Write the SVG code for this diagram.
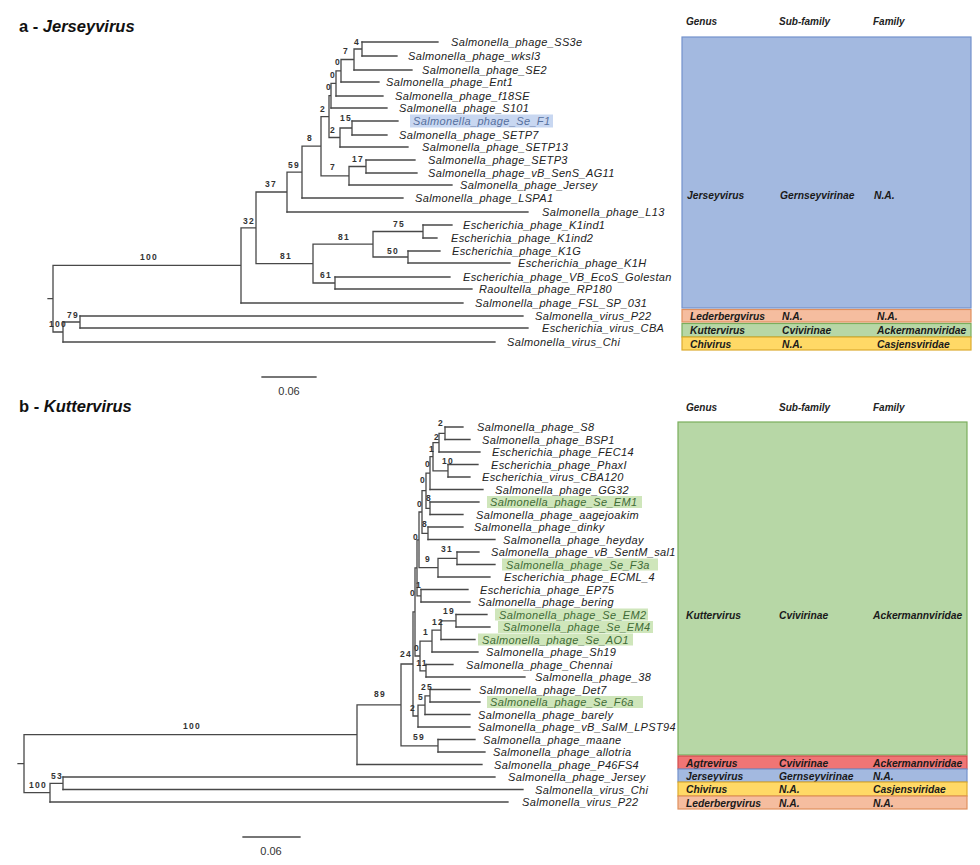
<svg xmlns="http://www.w3.org/2000/svg" width="980" height="865" viewBox="0 0 980 865">
<style>
.br{stroke:#484848;stroke-width:1.3;fill:none;stroke-linecap:square}
.lf{font-family:"Liberation Sans",Arial,sans-serif;font-style:italic;font-size:11px;letter-spacing:0.35px;fill:#222}
.hlb{fill:#c8d7f1}
.hlg{fill:#cfe6bb}
.tb{fill:#56709e}
.tg{fill:#3f6b36}
.bs{font-family:"Liberation Sans",Arial,sans-serif;font-weight:bold;font-size:8.5px;letter-spacing:1.2px;fill:#333;text-anchor:middle}
.ttl{font-family:"Liberation Sans",Arial,sans-serif;font-weight:bold;font-size:16.5px;fill:#111}
.hd{font-family:"Liberation Sans",Arial,sans-serif;font-weight:bold;font-style:italic;font-size:10px;fill:#222}
.tx{font-family:"Liberation Sans",Arial,sans-serif;font-weight:bold;font-style:italic;font-size:10.3px;fill:#1a1a1a}
.sc{font-family:"Liberation Sans",Arial,sans-serif;font-size:11px;fill:#333;text-anchor:middle}
.blue{fill:#a3b9e0;stroke:#7392cc;stroke-width:1.2}
.green{fill:#b7d7a6;stroke:#7aae5c;stroke-width:1.2}
.peach{fill:#f5bd9f;stroke:#e0905e;stroke-width:1.2}
.yellow{fill:#ffd966;stroke:#dcab2e;stroke-width:1.2}
.red{fill:#f07575;stroke:#d04c4c;stroke-width:1.2}
</style>

<!-- Titles -->
<g id="title-a"><text class="ttl" x="19" y="32">a - <tspan font-style="italic">Jerseyvirus</tspan></text></g>
<g id="title-b"><text class="ttl" x="19" y="412">b - <tspan font-style="italic">Kuttervirus</tspan></text></g>

<!-- Connectors (tree branches) -->
<g id="connectors">
<path class="br" d="M362 42H438 M362 56H397 M354 70H412 M341 82H379 M336 96H383 M331 108H387 M352 121H398 M352 135H387 M340 147H408 M366 160H415 M366 173H417 M349 185H452 M302 198H403 M287 212H528 M423 225H452 M423 238H437 M408 251H440 M408 263H510 M335 277H450 M335 289H472 M241 303H463 M80 316H523 M80 328H528 M63 342H495"/>
<path class="br" d="M362 42V56 M354 49H362 M354 49V70 M341 59.5H354 M341 59.5V82 M336 70.8H341 M336 70.8V96 M331 83.4H336 M331 83.4V108 M329 95.7H331 M352 121V135 M340 128H352 M340 128V147 M329 137.5H340 M329 95.7V137.5 M321 116.6H329 M366 160V173 M349 166.5H366 M349 166.5V185 M321 175.8H349 M321 116.6V175.8 M302 146.2H321 M302 146.2V198 M287 172.1H302 M287 172.1V212 M256 192H287 M423 225V238 M373 231.5H423 M408 251V263 M373 257H408 M373 231.5V257 M313 244.2H373 M335 277V289 M313 283H335 M313 244.2V283 M256 263.6H313 M256 192V263.6 M241 227.8H256 M241 227.8V303 M53 265.4H241 M80 316V328 M63 322H80 M63 322V342 M53 332H63 M53 265.4V332 M48 298.7H53"/>
<path class="br" d="M262 377H316"/>
<path class="br" d="M445 427H463 M445 439.5H470 M439 452H480 M448 464.5H478 M448 477H470 M430 489.5H483 M430 502H479 M430 514.5H463 M428 527H463 M428 539.5H495 M457 552H479 M457 564.5H495 M438 577H490 M421 589.5H468 M421 602H470 M456 614.5H487 M456 627H490 M441 639.5H475 M432 652H478 M426 664.5H453 M426 677H525 M430 689.5H470 M430 702H480 M425 714.5H470 M418 727H470 M438 739.5H475 M438 752H485 M357 764.5H482 M63 777H495 M63 789.5H523 M50 802H508"/>
<path class="br" d="M445 427V439.5 M439 433.3H445 M439 433.3V452 M433 442.6H439 M448 464.5V477 M433 470.8H448 M433 442.6V470.8 M430 456.7H433 M430 456.7V489.5 M426 473.1H430 M430 502V514.5 M426 508.3H430 M426 473.1V508.3 M422 490.7H426 M428 527V539.5 M422 533.3H428 M422 490.7V533.3 M419 512H422 M457 552V564.5 M438 558.3H457 M438 558.3V577 M419 567.6H438 M419 512V567.6 M417 539.8H419 M421 589.5V602 M417 595.8H421 M417 539.8V595.8 M415 567.8H417 M456 614.5V627 M441 620.8H456 M441 620.8V639.5 M432 630.1H441 M432 630.1V652 M420 641.1H432 M426 664.5V677 M420 670.8H426 M420 641.1V670.8 M415 656H420 M415 567.8V656 M413 611.9H415 M430 689.5V702 M425 695.8H430 M425 695.8V714.5 M418 705.1H425 M418 705.1V727 M413 716H418 M413 611.9V716 M401 664H413 M438 739.5V752 M401 745.8H438 M401 664V745.8 M357 704.9H401 M357 704.9V764.5 M24 734.7H357 M63 777V789.5 M50 783.3H63 M50 783.3V802 M24 792.6H50 M24 734.7V792.6 M18 763.7H24"/>
<path class="br" d="M243 837H300"/>
</g>

<!-- Bootstrap values -->
<g id="bootstrap-a">
<text class="bs" x="357" y="45">4</text>
<text class="bs" x="346" y="54">7</text>
<text class="bs" x="338" y="65">0</text>
<text class="bs" x="333" y="78">0</text>
<text class="bs" x="329" y="90">0</text>
<text class="bs" x="323" y="112">2</text>
<text class="bs" x="346" y="121">15</text>
<text class="bs" x="333" y="133">2</text>
<text class="bs" x="310" y="141">8</text>
<text class="bs" x="358" y="162">17</text>
<text class="bs" x="333" y="170">7</text>
<text class="bs" x="294" y="168">59</text>
<text class="bs" x="271" y="187">37</text>
<text class="bs" x="249" y="224">32</text>
<text class="bs" x="286" y="259">81</text>
<text class="bs" x="399" y="227">75</text>
<text class="bs" x="344" y="240">81</text>
<text class="bs" x="393" y="254">50</text>
<text class="bs" x="326" y="278">61</text>
<text class="bs" x="149" y="260">100</text>
<text class="bs" x="73" y="318">79</text>
<text class="bs" x="58" y="327">100</text>
</g>
<g id="bootstrap-b">
<text class="bs" x="441" y="426">2</text>
<text class="bs" x="437" y="440">2</text>
<text class="bs" x="432" y="452">1</text>
<text class="bs" x="448" y="464">10</text>
<text class="bs" x="428" y="467">0</text>
<text class="bs" x="423" y="483">0</text>
<text class="bs" x="429" y="501">8</text>
<text class="bs" x="420" y="507">0</text>
<text class="bs" x="425" y="527">8</text>
<text class="bs" x="416" y="540">0</text>
<text class="bs" x="447" y="552">31</text>
<text class="bs" x="428" y="562">9</text>
<text class="bs" x="419" y="588">1</text>
<text class="bs" x="413" y="596">0</text>
<text class="bs" x="449" y="614">19</text>
<text class="bs" x="438" y="625">12</text>
<text class="bs" x="426" y="635">1</text>
<text class="bs" x="417" y="651">0</text>
<text class="bs" x="406" y="657">24</text>
<text class="bs" x="422" y="666">11</text>
<text class="bs" x="427" y="690">25</text>
<text class="bs" x="421" y="700">5</text>
<text class="bs" x="413" y="711">2</text>
<text class="bs" x="419" y="740">59</text>
<text class="bs" x="380" y="697">89</text>
<text class="bs" x="192" y="729">100</text>
<text class="bs" x="57" y="779">53</text>
<text class="bs" x="38" y="788">100</text>
</g>

<!-- Scale bars -->
<g id="scale-a"><text class="sc" x="289" y="395">0.06</text></g>
<g id="scale-b"><text class="sc" x="271" y="855">0.06</text></g>

<!-- Leaves panel a -->
<g id="a-SS3e"><text class="lf" x="451" y="46">Salmonella_phage_SS3e</text></g>
<g id="a-wksl3"><text class="lf" x="408" y="60">Salmonella_phage_wksl3</text></g>
<g id="a-SE2"><text class="lf" x="422" y="74">Salmonella_phage_SE2</text></g>
<g id="a-Ent1"><text class="lf" x="386" y="86">Salmonella_phage_Ent1</text></g>
<g id="a-f18SE"><text class="lf" x="395" y="100">Salmonella_phage_f18SE</text></g>
<g id="a-S101"><text class="lf" x="399" y="112">Salmonella_phage_S101</text></g>
<g id="a-SeF1"><rect class="hlb" x="410" y="114.5" width="143" height="13"/><text class="lf tb" x="413" y="125">Salmonella_phage_Se_F1</text></g>
<g id="a-SETP7"><text class="lf" x="399" y="139">Salmonella_phage_SETP7</text></g>
<g id="a-SETP13"><text class="lf" x="422" y="151">Salmonella_phage_SETP13</text></g>
<g id="a-SETP3"><text class="lf" x="428" y="164">Salmonella_phage_SETP3</text></g>
<g id="a-AG11"><text class="lf" x="428" y="177">Salmonella_phage_vB_SenS_AG11</text></g>
<g id="a-Jersey"><text class="lf" x="460" y="189">Salmonella_phage_Jersey</text></g>
<g id="a-LSPA1"><text class="lf" x="415" y="202">Salmonella_phage_LSPA1</text></g>
<g id="a-L13"><text class="lf" x="542" y="216">Salmonella_phage_L13</text></g>
<g id="a-K1ind1"><text class="lf" x="463" y="229">Escherichia_phage_K1ind1</text></g>
<g id="a-K1ind2"><text class="lf" x="451" y="242">Escherichia_phage_K1ind2</text></g>
<g id="a-K1G"><text class="lf" x="452" y="255">Escherichia_phage_K1G</text></g>
<g id="a-K1H"><text class="lf" x="518" y="267">Escherichia_phage_K1H</text></g>
<g id="a-Golestan"><text class="lf" x="463" y="281">Escherichia_phage_VB_EcoS_Golestan</text></g>
<g id="a-RP180"><text class="lf" x="479" y="293">Raoultella_phage_RP180</text></g>
<g id="a-FSL"><text class="lf" x="475" y="307">Salmonella_phage_FSL_SP_031</text></g>
<g id="a-P22"><text class="lf" x="535" y="320">Salmonella_virus_P22</text></g>
<g id="a-CBA"><text class="lf" x="542" y="332">Escherichia_virus_CBA</text></g>
<g id="a-Chi"><text class="lf" x="507" y="346">Salmonella_virus_Chi</text></g>

<!-- Leaves panel b -->
<g id="b-S8"><text class="lf" x="477" y="431">Salmonella_phage_S8</text></g>
<g id="b-BSP1"><text class="lf" x="482" y="443.5">Salmonella_phage_BSP1</text></g>
<g id="b-FEC14"><text class="lf" x="492" y="456">Escherichia_phage_FEC14</text></g>
<g id="b-PhaxI"><text class="lf" x="491" y="468.5">Escherichia_phage_PhaxI</text></g>
<g id="b-CBA120"><text class="lf" x="482" y="481">Escherichia_virus_CBA120</text></g>
<g id="b-GG32"><text class="lf" x="495" y="493.5">Salmonella_phage_GG32</text></g>
<g id="b-SeEM1"><rect class="hlg" x="487" y="496" width="155" height="12"/><text class="lf tg" x="490" y="506">Salmonella_phage_Se_EM1</text></g>
<g id="b-aagejoakim"><text class="lf" x="476" y="518.5">Salmonella_phage_aagejoakim</text></g>
<g id="b-dinky"><text class="lf" x="474" y="531">Salmonella_phage_dinky</text></g>
<g id="b-heyday"><text class="lf" x="503" y="543.5">Salmonella_phage_heyday</text></g>
<g id="b-sal1"><text class="lf" x="491" y="556">Salmonella_phage_vB_SentM_sal1</text></g>
<g id="b-SeF3a"><rect class="hlg" x="502" y="558.5" width="156" height="12"/><text class="lf tg" x="506" y="568.5">Salmonella_phage_Se_F3a</text></g>
<g id="b-ECML4"><text class="lf" x="504" y="581">Escherichia_phage_ECML_4</text></g>
<g id="b-EP75"><text class="lf" x="480" y="593.5">Escherichia_phage_EP75</text></g>
<g id="b-bering"><text class="lf" x="478" y="606">Salmonella_phage_bering</text></g>
<g id="b-SeEM2"><rect class="hlg" x="495" y="608.5" width="153" height="12"/><text class="lf tg" x="499" y="618.5">Salmonella_phage_Se_EM2</text></g>
<g id="b-SeEM4"><rect class="hlg" x="498" y="621" width="155" height="12"/><text class="lf tg" x="503" y="631">Salmonella_phage_Se_EM4</text></g>
<g id="b-SeAO1"><rect class="hlg" x="478" y="633.5" width="155" height="12"/><text class="lf tg" x="482" y="643.5">Salmonella_phage_Se_AO1</text></g>
<g id="b-Sh19"><text class="lf" x="486" y="656">Salmonella_phage_Sh19</text></g>
<g id="b-Chennai"><text class="lf" x="466" y="668.5">Salmonella_phage_Chennai</text></g>
<g id="b-38"><text class="lf" x="535" y="681">Salmonella_phage_38</text></g>
<g id="b-Det7"><text class="lf" x="479" y="693.5">Salmonella_phage_Det7</text></g>
<g id="b-SeF6a"><rect class="hlg" x="487" y="696" width="156" height="12"/><text class="lf tg" x="490" y="706">Salmonella_phage_Se_F6a</text></g>
<g id="b-barely"><text class="lf" x="478" y="718.5">Salmonella_phage_barely</text></g>
<g id="b-LPST94"><text class="lf" x="478" y="731">Salmonella_phage_vB_SalM_LPST94</text></g>
<g id="b-maane"><text class="lf" x="483" y="743.5">Salmonella_phage_maane</text></g>
<g id="b-allotria"><text class="lf" x="493" y="756">Salmonella_phage_allotria</text></g>
<g id="b-P46FS4"><text class="lf" x="494" y="768.5">Salmonella_phage_P46FS4</text></g>
<g id="b-Jersey"><text class="lf" x="508" y="781">Salmonella_phage_Jersey</text></g>
<g id="b-Chi"><text class="lf" x="535" y="793.5">Salmonella_virus_Chi</text></g>
<g id="b-P22"><text class="lf" x="522" y="806">Salmonella_virus_P22</text></g>

<!-- Classification table a -->
<g id="table-a-header">
<text class="hd" x="686" y="25">Genus</text>
<text class="hd" x="779" y="25">Sub-family</text>
<text class="hd" x="873" y="25">Family</text>
</g>
<g id="table-a-jerseyvirus">
<rect class="blue" x="682" y="37" width="289" height="271"/>
<text class="tx" x="687" y="199">Jerseyvirus</text>
<text class="tx" x="780" y="199">Gernseyvirinae</text>
<text class="tx" x="874" y="199">N.A.</text>
</g>
<g id="table-a-lederbergvirus">
<rect class="peach" x="682" y="309.5" width="289" height="12.5"/>
<text class="tx" x="690" y="319.5">Lederbergvirus</text>
<text class="tx" x="782" y="319.5">N.A.</text>
<text class="tx" x="877" y="319.5">N.A.</text>
</g>
<g id="table-a-kuttervirus">
<rect class="green" x="682" y="323.5" width="289" height="13.5"/>
<text class="tx" x="690" y="334">Kuttervirus</text>
<text class="tx" x="782" y="334">Cvivirinae</text>
<text class="tx" x="877" y="334">Ackermannviridae</text>
</g>
<g id="table-a-chivirus">
<rect class="yellow" x="682" y="337" width="289" height="13"/>
<text class="tx" x="690" y="347.5">Chivirus</text>
<text class="tx" x="782" y="347.5">N.A.</text>
<text class="tx" x="877" y="347.5">Casjensviridae</text>
</g>

<!-- Classification table b -->
<g id="table-b-header">
<text class="hd" x="686" y="411">Genus</text>
<text class="hd" x="779" y="411">Sub-family</text>
<text class="hd" x="873" y="411">Family</text>
</g>
<g id="table-b-kuttervirus">
<rect class="green" x="678" y="422" width="289" height="333"/>
<text class="tx" x="686" y="619">Kuttervirus</text>
<text class="tx" x="779" y="619">Cvivirinae</text>
<text class="tx" x="873" y="619">Ackermannviridae</text>
</g>
<g id="table-b-agtrevirus">
<rect class="red" x="678" y="756" width="289" height="13"/>
<text class="tx" x="686" y="766.5">Agtrevirus</text>
<text class="tx" x="779" y="766.5">Cvivirinae</text>
<text class="tx" x="873" y="766.5">Ackermannviridae</text>
</g>
<g id="table-b-jerseyvirus">
<rect class="blue" x="678" y="769" width="289" height="13"/>
<text class="tx" x="686" y="779.5">Jerseyvirus</text>
<text class="tx" x="779" y="779.5">Gernseyvirinae</text>
<text class="tx" x="873" y="779.5">N.A.</text>
</g>
<g id="table-b-chivirus">
<rect class="yellow" x="678" y="782" width="289" height="14"/>
<text class="tx" x="686" y="793">Chivirus</text>
<text class="tx" x="779" y="793">N.A.</text>
<text class="tx" x="873" y="793">Casjensviridae</text>
</g>
<g id="table-b-lederbergvirus">
<rect class="peach" x="678" y="796" width="289" height="13"/>
<text class="tx" x="686" y="806.5">Lederbergvirus</text>
<text class="tx" x="779" y="806.5">N.A.</text>
<text class="tx" x="873" y="806.5">N.A.</text>
</g>
</svg>
